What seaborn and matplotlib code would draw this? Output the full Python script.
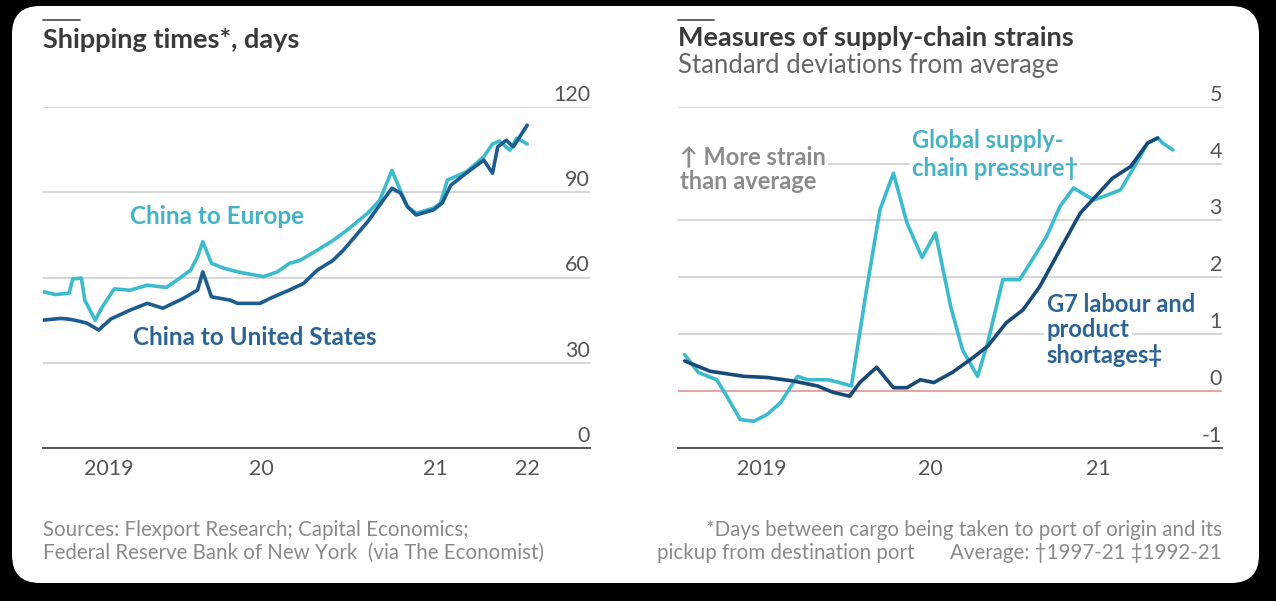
import pandas as pd
import matplotlib.pyplot as plt
import seaborn as sns
from matplotlib.patches import FancyBboxPatch
from matplotlib.lines import Line2D

# Shipping times, days (time as decimal year)
europe_t = [2019.24, 2019.31, 2019.39, 2019.41, 2019.46, 2019.48, 2019.54, 2019.58, 2019.65, 2019.74,
            2019.84, 2019.95, 2020.01, 2020.09, 2020.13, 2020.16, 2020.21, 2020.28, 2020.36, 2020.51,
            2020.59, 2020.66, 2020.72, 2020.82, 2020.91, 2020.99, 2021.11, 2021.18, 2021.25, 2021.29,
            2021.34, 2021.39, 2021.49, 2021.53, 2021.57, 2021.68, 2021.78, 2021.83, 2021.87, 2021.93,
            2021.97, 2022.03]
europe_days = [55, 54, 54.5, 59.5, 59.8, 52, 45, 49.6, 56, 55.5,
               57.3, 56.5, 59, 62.6, 67.3, 72.6, 65, 63.3, 62, 60.3,
               62, 65, 66, 69.6, 73, 76.6, 82.6, 87.2, 97.7, 91.9,
               84.9, 82.6, 84.4, 86.2, 94.3, 97.2, 102.5, 107, 108, 104.8,
               109, 107]

us_t = [2019.24, 2019.34, 2019.38, 2019.42, 2019.49, 2019.56, 2019.63, 2019.74, 2019.84, 2019.93,
        2020.05, 2020.13, 2020.16, 2020.21, 2020.32, 2020.36, 2020.49, 2020.55, 2020.66, 2020.74,
        2020.82, 2020.91, 2020.97, 2021.11, 2021.20, 2021.25, 2021.30, 2021.34, 2021.39, 2021.49,
        2021.54, 2021.59, 2021.68, 2021.78, 2021.83, 2021.86, 2021.91, 2021.95, 2022.03]
us_days = [45, 45.6, 45.4, 45, 44, 41.5, 45.4, 48.5, 50.9, 49.2,
           52.7, 55.6, 62, 53.2, 52, 50.9, 50.9, 52.7, 55.6, 57.9,
           62.6, 66, 69.6, 79.6, 87.2, 91.4, 89.7, 84.9, 82, 83.8,
           86.2, 92.5, 96.8, 101.3, 96.7, 106, 108.3, 106, 113.6]

# Supply-chain strains, standard deviations from average
gscpi_t = [2019.04, 2019.12, 2019.23, 2019.29, 2019.37, 2019.45, 2019.53, 2019.61, 2019.71, 2019.77,
           2019.89, 2019.96, 2020.03, 2020.12, 2020.20, 2020.28, 2020.36, 2020.45, 2020.53, 2020.62,
           2020.69, 2020.78, 2020.84, 2020.93, 2021.03, 2021.13, 2021.19, 2021.27, 2021.35, 2021.47,
           2021.58, 2021.63, 2021.70, 2021.79, 2021.85, 2021.88, 2021.94]
gscpi_sd = [0.64, 0.33, 0.2, -0.09, -0.5, -0.53, -0.41, -0.2, 0.26, 0.2,
            0.2, 0.15, 0.09, 1.78, 3.19, 3.83, 2.96, 2.35, 2.78, 1.49,
            0.73, 0.26, 0.85, 1.96, 1.96, 2.43, 2.72, 3.25, 3.57, 3.36,
            3.48, 3.54, 3.89, 4.36, 4.45, 4.36, 4.24]

g7_t = [2019.04, 2019.19, 2019.39, 2019.53, 2019.68, 2019.83, 2019.92, 2020.02, 2020.08, 2020.18,
        2020.28, 2020.36, 2020.44, 2020.52, 2020.63, 2020.74, 2020.84, 2020.95, 2021.05, 2021.15,
        2021.27, 2021.39, 2021.49, 2021.58, 2021.69, 2021.79, 2021.85]
g7_sd = [0.53, 0.35, 0.26, 0.24, 0.18, 0.09, -0.02, -0.09, 0.15, 0.42,
         0.06, 0.06, 0.2, 0.15, 0.33, 0.56, 0.79, 1.2, 1.43, 1.84,
         2.49, 3.13, 3.45, 3.74, 3.95, 4.36, 4.45]

LIGHT = '#3cbbcf'
DARK = '#1d5c8f'
NAVY = '#184a78'
GRID = '#d6d6d6'
TXT = '#3a3a3a'
GREY = '#8a8a8a'

sns.set_style('white')
plt.rcParams['font.family'] = ['Lato', 'DejaVu Sans']

fig = plt.figure(figsize=(12.76, 6.01), dpi=100)
fig.patch.set_facecolor('black')
card = FancyBboxPatch((0.12, 0.18), 12.47, 5.77, boxstyle='round,pad=0,rounding_size=0.28',
                      transform=fig.dpi_scale_trans, facecolor='white', edgecolor='none', zorder=0)
fig.add_artist(card)

ax1 = fig.add_axes([43 / 1276, 1 - 448 / 601, 547 / 1276, 341 / 601])
ax2 = fig.add_axes([678 / 1276, 1 - 448 / 601, 544 / 1276, 341.3 / 601])


def style_axis(ax, yticks, ylabels, xmajor, xminor, xlabels):
    for s in ['top', 'left', 'right']:
        ax.spines[s].set_visible(False)
    ax.spines['bottom'].set_color('#555555')
    ax.spines['bottom'].set_linewidth(1.4)
    ax.set_yticks(yticks)
    ax.tick_params(axis='y', length=0, labelleft=False)
    ax.yaxis.grid(True, color=GRID, lw=1.4)
    ax.set_axisbelow(True)
    for v, lab in zip(yticks, ylabels):
        ax.annotate(lab, xy=(1, v), xycoords=('axes fraction', 'data'), xytext=(0, 1.5),
                    textcoords='offset points', ha='right', va='bottom', fontsize=15.5, color='#555555')
    ax.set_xticks(xmajor, labels=[''] * len(xmajor))
    ax.set_xticks(xminor, labels=xlabels, minor=True)
    ax.tick_params(axis='x', which='major', length=8, width=1.4, color='#555555', direction='out')
    ax.tick_params(axis='x', which='minor', length=0, pad=8, labelsize=15.5, labelcolor='#555555')
    ax.set_xlabel('')
    ax.set_ylabel('')


# Left panel: shipping times
sns.lineplot(x=europe_t, y=europe_days, ax=ax1, color=LIGHT, lw=2.6)
sns.lineplot(x=us_t, y=us_days, ax=ax1, color=DARK, lw=2.6)
ax1.set_xlim(2019.239, 2022.392)
ax1.set_ylim(0, 120)
style_axis(ax1, [0, 30, 60, 90, 120], ['0', '30', '60', '90', '120'],
           [2019.239, 2020, 2021, 2022], [2019.62, 2020.5, 2021.5, 2022.03], ['2019', '20', '21', '22'])
ax1.text(2019.74, 81.6, 'China to Europe', color='#45b3c4', fontsize=17.5, weight='bold', va='center')
ax1.text(2019.76, 39, 'China to United States', color='#2b6396', fontsize=17.5, weight='bold', va='center')

# Right panel: supply-chain strains
sns.lineplot(x=gscpi_t, y=gscpi_sd, ax=ax2, color=LIGHT, lw=2.6)
sns.lineplot(x=g7_t, y=g7_sd, ax=ax2, color=NAVY, lw=2.6)
ax2.axhline(0, color='#e6a4a4', lw=1.4, zorder=1)
ax2.set_xlim(2019.0, 2022.232)
ax2.set_ylim(-1, 5)
style_axis(ax2, [-1, 0, 1, 2, 3, 4, 5], ['-1', '0', '1', '2', '3', '4', '5'],
           [2019, 2020, 2021, 2022], [2019.5, 2020.5, 2021.5], ['2019', '20', '21'])


def label_lines(ax, x, y0, lines, color, step):
    for i, line in enumerate(lines):
        ax.text(x, y0 - i * step, line, color=color, fontsize=17, weight='bold', va='center',
                bbox=dict(facecolor='white', edgecolor='none', pad=1.5), zorder=3)


label_lines(ax2, 2019.01, 4.12, ['\u2191 More strain', 'than average'], '#8c8c8c', 0.44)
label_lines(ax2, 2020.39, 4.41, ['Global supply-', 'chain pressure\u2020'], '#45b3c4', 0.49)
label_lines(ax2, 2021.19, 1.52, ['G7 labour and', 'product', 'shortages\u2021'], '#2b6396', 0.445)

# Titles
fig.add_artist(Line2D([43 / 1276, 80 / 1276], [1 - 20 / 601] * 2, color='#555555', lw=1.3))
fig.add_artist(Line2D([678 / 1276, 714 / 1276], [1 - 20 / 601] * 2, color='#555555', lw=1.3))
fig.text(43 / 1276, 1 - 40 / 601, 'Shipping times*, days', fontsize=19.5, weight='bold', color=TXT, va='center')
fig.text(678 / 1276, 1 - 38 / 601, 'Measures of supply-chain strains', fontsize=19.5, weight='bold',
         color=TXT, va='center')
fig.text(678 / 1276, 1 - 65 / 601, 'Standard deviations from average', fontsize=18.5, color='#666666',
         va='center')

# Footnotes
fs = 14.8
fig.text(43 / 1276, 1 - 530 / 601, 'Sources: Flexport Research; Capital Economics;', fontsize=fs,
         color=GREY, va='center')
fig.text(43 / 1276, 1 - 553 / 601, 'Federal Reserve Bank of New York  (via The Economist)', fontsize=fs,
         color=GREY, va='center')
fig.text(1222 / 1276, 1 - 530 / 601, '*Days between cargo being taken to port of origin and its',
         fontsize=fs, color=GREY, va='center', ha='right')
fig.text(657 / 1276, 1 - 553 / 601, 'pickup from destination port', fontsize=fs, color=GREY, va='center')
fig.text(1222 / 1276, 1 - 553 / 601, 'Average: \u20201997-21 \u20211992-21', fontsize=fs, color=GREY,
         va='center', ha='right')

fig.savefig('out.png', dpi=100, facecolor=fig.get_facecolor())
